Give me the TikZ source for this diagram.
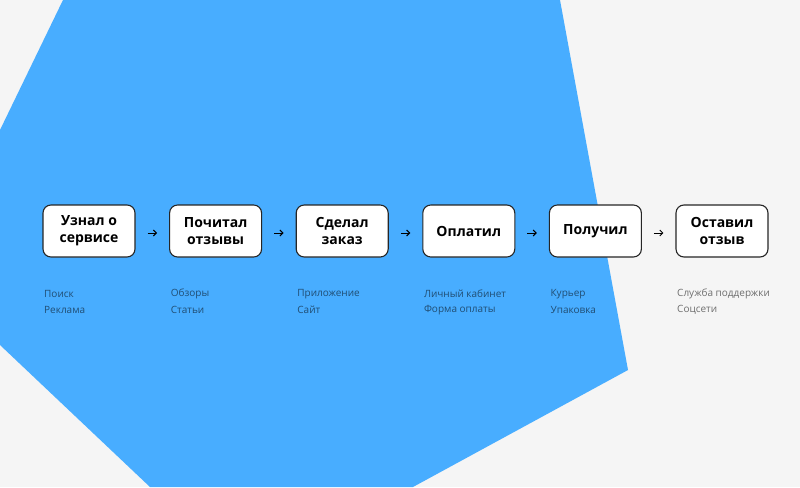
\documentclass[tikz,border=0pt]{standalone}
\usepackage{fontspec}
\setmainfont{Open Sans}
\usetikzlibrary{positioning,arrows.meta}
\definecolor{bggray}{HTML}{F5F5F5}
\definecolor{skyblue}{HTML}{48ADFF}
\begin{document}
\begin{tikzpicture}[x=1pt,y=-1pt,
  stage/.style={draw=black!85,line width=1.1pt,fill=white,rounded corners=8pt,
    minimum width=92pt,minimum height=52pt,inner sep=0pt,align=center,
    font=\fontsize{14}{17}\selectfont\bfseries},
  hint/.style={anchor=west,inner sep=0pt,text=black,text opacity=0.55,
    font=\fontsize{10}{11}\selectfont},
  link/.style={-{Straight Barb[length=3pt,width=6pt]},line width=1pt,
    shorten <=12pt,shorten >=12pt}]
% background and blue shape
\fill[bggray] (0,0) rectangle (800,487);
\fill[skyblue] (63,0) -- (560,0) -- (628,370) -- (413,487) -- (150,487)
  -- (0,345) -- (0,130) -- cycle;
\foreach \i/\name/\a/\b in {1/{Узнал о\\сервисе}/Поиск/Реклама,
  2/{Почитал\\отзывы}/Обзоры/Статьи,
  3/{Сделал\\заказ}/Приложение/Сайт,
  4/{Оплатил}/Личный кабинет/Форма оплаты,
  5/{Получил}/Курьер/Упаковка,
  6/{Оставил\\отзыв}/Служба поддержки/Соцсети}
{
        \pgfmathsetmacro{\x}{89 + 126.6 * (\i - 1)}
        \node[stage] (s\i) at (\x,231) {\name};
        \node[hint] (p\i) at (\x - 45,294) {\a};
        \node[hint] (q\i) at (\x - 45,310) {\b};
}
% Steps
\draw[link] ([yshift=-2pt]s1.east) -- ([yshift=-2pt]s2.west);
\draw[link] ([yshift=-2pt]s2.east) -- ([yshift=-2pt]s3.west);
\draw[link] ([yshift=-2pt]s3.east) -- ([yshift=-2pt]s4.west);
\draw[link] ([yshift=-2pt]s4.east) -- ([yshift=-2pt]s5.west);
\draw[link] ([yshift=-2pt]s5.east) -- ([yshift=-2pt]s6.west);
\end{tikzpicture}
\end{document}
